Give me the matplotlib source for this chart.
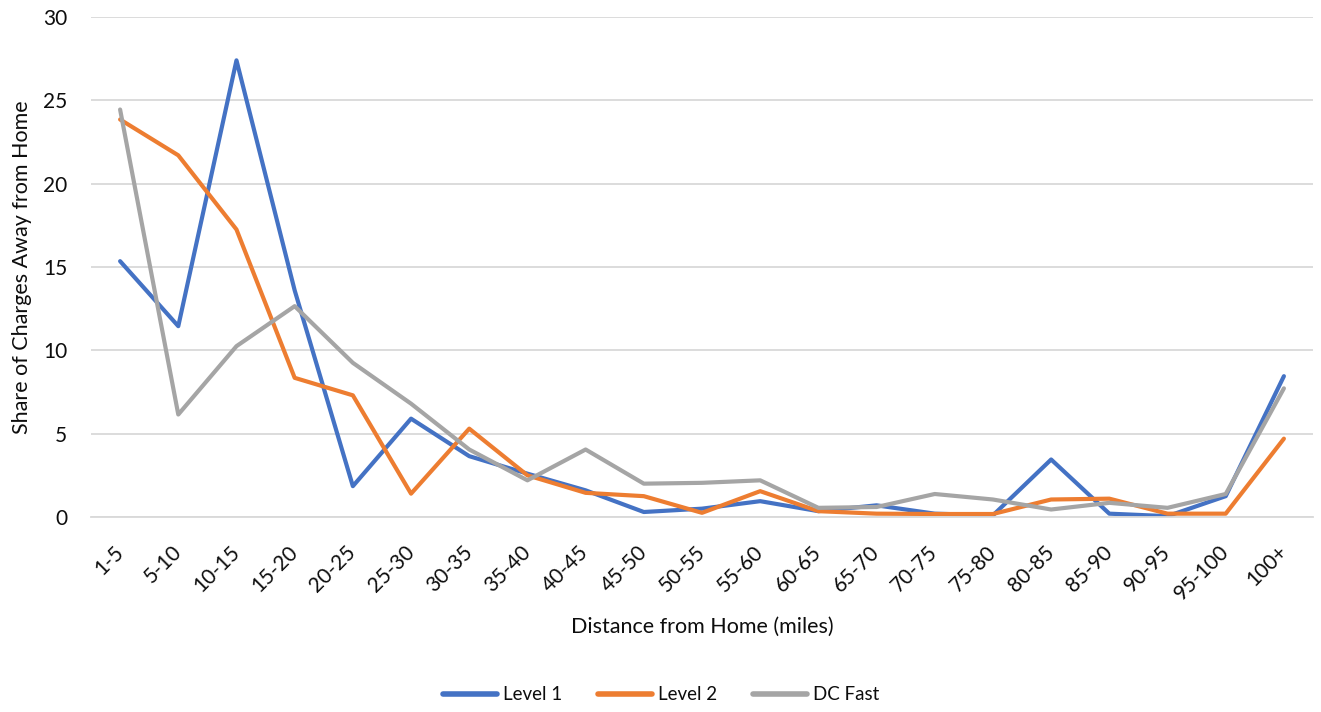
import matplotlib
matplotlib.use("Agg")
import matplotlib.pyplot as plt

categories = ["1-5", "5-10", "10-15", "15-20", "20-25", "25-30", "30-35", "35-40",
              "40-45", "45-50", "50-55", "55-60", "60-65", "65-70", "70-75", "75-80",
              "80-85", "85-90", "90-95", "95-100", "100+"]
level1 = [15.35, 11.45, 27.4, 13.6, 1.85, 5.9, 3.65, 2.6, 1.6, 0.3, 0.5, 0.95, 0.35,
          0.7, 0.2, 0.1, 3.45, 0.2, 0.05, 1.25, 8.45]
level2 = [23.85, 21.7, 17.25, 8.35, 7.3, 1.4, 5.3, 2.5, 1.45, 1.25, 0.25, 1.55, 0.35,
          0.2, 0.18, 0.18, 1.05, 1.1, 0.2, 0.2, 4.7]
dcfast = [24.45, 6.15, 10.25, 12.65, 9.25, 6.8, 4.05, 2.2, 4.05, 2.0, 2.05, 2.2, 0.55,
          0.6, 1.38, 1.05, 0.45, 0.85, 0.55, 1.38, 7.72]

plt.rcParams['font.family'] = ['Lato', 'DejaVu Sans']
text_color = "#0d0d0d"

fig = plt.figure(figsize=(13.21, 7.12), dpi=100)
ax = fig.add_axes([91/1321, 1 - 517/712, 1222/1321, 500/712])

x = list(range(len(categories)))
ax.plot(x, level1, color="#4472C4", lw=3.0, label="Level 1", solid_joinstyle="round", solid_capstyle="round")
ax.plot(x, level2, color="#ED7D31", lw=3.0, label="Level 2", solid_joinstyle="round", solid_capstyle="round")
ax.plot(x, dcfast, color="#A5A5A5", lw=3.0, label="DC Fast", solid_joinstyle="round", solid_capstyle="round")

ax.set_xlim(-0.5, len(categories) - 0.5)
ax.set_ylim(0, 30)
ax.set_yticks(range(0, 31, 5))
ax.grid(axis="y", color="#D9D9D9", lw=1.3)
ax.set_axisbelow(True)
for s in ["top", "right", "left"]:
    ax.spines[s].set_visible(False)
ax.spines["bottom"].set_color("#D9D9D9")
ax.spines["bottom"].set_linewidth(1.3)
ax.tick_params(axis="both", length=0, colors=text_color, labelsize=15)
ax.tick_params(axis="y", pad=17)
ax.set_xticks(x)
ax.set_xticklabels(categories, rotation=45, ha="right", va="center", rotation_mode="anchor")
ax.tick_params(axis="x", pad=23)

ax.set_xlabel("Distance from Home (miles)", fontsize=15.5, color=text_color, labelpad=9)
ax.set_ylabel("Share of Charges Away from Home", fontsize=15.5, color=text_color, labelpad=8)

leg = fig.legend(loc="center", bbox_to_anchor=(661/1321, 1 - 695/712), ncol=3, frameon=False,
                 fontsize=13.5, handlelength=2.9, columnspacing=1.9, handletextpad=0.3)
for line in leg.get_lines():
    line.set_linewidth(4)
for t in leg.get_texts():
    t.set_color(text_color)

fig.savefig("out.png", dpi=100)
